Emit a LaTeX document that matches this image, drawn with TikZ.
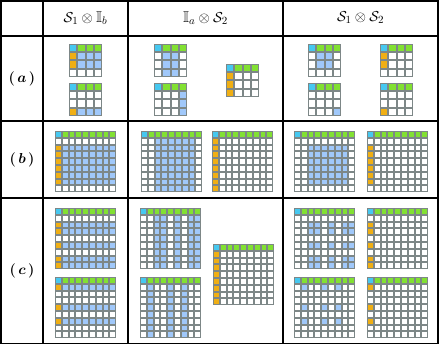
\documentclass[tikz,border=0pt]{standalone}
\usepackage{amsmath}
\usepackage{amssymb}
\usepackage{bm}
\usepackage{xcolor}
\usepackage{tikz}

\definecolor{gridgray}{RGB}{125,135,135}
\definecolor{cyancell}{RGB}{70,200,240}
\definecolor{greencell}{RGB}{130,225,50}
\definecolor{orangecell}{RGB}{240,175,20}
\definecolor{bluecell}{RGB}{160,200,250}

% n x n grid with its top-left corner at (x,y): \sqgrid{x}{y}{n}{pitch}
\newcommand{\sqgrid}[4]{%
  \def\gx{#1}\def\gy{#2}\def\gp{#4}%
  \fill[gridgray] (#1,#2) rectangle ++({#3*#4},{#3*#4});
  \pgfmathtruncatemacro\glast{#3-1}%
  \paint{white}{0,...,\glast}{0,...,\glast}%
  \paint{greencell}{1,...,\glast}{0}%
  \paint{cyancell}{0}{0}%
}
% \paint{colour}{columns}{rows} on the last grid
\newcommand{\paint}[3]{%
  \foreach \ci in {#2}{\foreach \ri in {#3}{%
    \fill[#1] ({\gx+\ci*\gp+1},{\gy+\ri*\gp+1})
      rectangle ++({\gp-2},{\gp-2});}}}

\begin{document}
\begin{tikzpicture}[
  x=1pt, y=-1pt,
  rule/.style   = {draw=black, line width=1.7pt},
  hdr/.style    = {font=\fontsize{15.5}{18}\selectfont, inner sep=1pt},
  rowlbl/.style = {font=\fontsize{15}{18}\selectfont, inner sep=1pt},
]
\useasboundingbox (0,0) rectangle (440,345);

% table
\draw[rule] (0.9,0.9) rectangle (438,343.5);
\draw[rule] (43,0.9) -- (43,343.5);
\draw[rule] (128,0.9) -- (128,343.5);
\draw[rule] (283,0.9) -- (283,343.5);
\draw[rule] (0.9,36) -- (438,36);
\draw[rule] (0.9,121) -- (438,121);
\draw[rule] (0.9,198) -- (438,198);

\node[hdr] (s1ib) at (85.5,18)  {$\mathcal{S}_1\otimes\mathbb{I}_b$};
\node[hdr] (ias2) at (205.5,18) {$\mathbb{I}_a\otimes\mathcal{S}_2$};
\node[hdr] (s1s2) at (360.5,18) {$\mathcal{S}_1\otimes\mathcal{S}_2$};

\node[rowlbl] (rowa) at (22,78.5)  {$\boldsymbol{(\,a\,)}$};
\node[rowlbl] (rowb) at (22,159.5) {$\boldsymbol{(\,b\,)}$};
\node[rowlbl] (rowc) at (22,270.5) {$\boldsymbol{(\,c\,)}$};

% row (a)
\sqgrid{69}{44}{4}{8.25}  \paint{orangecell}{0}{1,2} \paint{bluecell}{1,2,3}{1,2}
\sqgrid{69}{83}{4}{8.25}  \paint{orangecell}{0}{3}   \paint{bluecell}{1,2,3}{3}
\sqgrid{154}{44}{4}{8.25} \paint{bluecell}{1,2}{1,2,3}
\sqgrid{154}{83}{4}{8.25} \paint{bluecell}{3}{1,2,3}
\sqgrid{226}{64}{4}{8.25} \paint{orangecell}{0}{1,2,3}
\sqgrid{308}{44}{4}{8.25} \paint{bluecell}{1,2}{1,2}
\sqgrid{380}{44}{4}{8.25} \paint{orangecell}{0}{1,2}
\sqgrid{308}{83}{4}{8.25} \paint{bluecell}{3}{3}
\sqgrid{380}{83}{4}{8.25} \paint{orangecell}{0}{3}

% row (b)
\sqgrid{55}{131}{9}{6.8}  \paint{orangecell}{0}{2,...,7} \paint{bluecell}{1,...,8}{2,...,7}
\sqgrid{141}{131}{9}{6.8} \paint{bluecell}{2,...,7}{1,...,8}
\sqgrid{212}{131}{9}{6.8} \paint{orangecell}{0}{1,...,8}
\sqgrid{294}{131}{9}{6.8} \paint{bluecell}{2,...,7}{2,...,7}
\sqgrid{367}{131}{9}{6.8} \paint{orangecell}{0}{2,...,7}

% row (c)
\sqgrid{55}{208}{9}{6.8}  \paint{orangecell}{0}{2,3,5,7,8} \paint{bluecell}{1,...,8}{2,3,5,7,8}
\sqgrid{55}{277}{9}{6.8}  \paint{orangecell}{0}{1,4,6}     \paint{bluecell}{1,...,8}{1,4,6}
\sqgrid{140}{208}{9}{6.8} \paint{bluecell}{2,3,5,7,8}{1,...,8}
\sqgrid{140}{277}{9}{6.8} \paint{bluecell}{1,4,6}{1,...,8}
\sqgrid{213}{244}{9}{6.8} \paint{orangecell}{0}{1,...,8}
\sqgrid{294}{208}{9}{6.8} \paint{bluecell}{2,3,5,7,8}{2,3,5,7,8}
\sqgrid{367}{208}{9}{6.8} \paint{orangecell}{0}{2,3,5,7,8}
\sqgrid{294}{277}{9}{6.8} \paint{bluecell}{1,4,6}{1,4,6}
\sqgrid{367}{277}{9}{6.8} \paint{orangecell}{0}{1,4,6}

\end{tikzpicture}
\end{document}
